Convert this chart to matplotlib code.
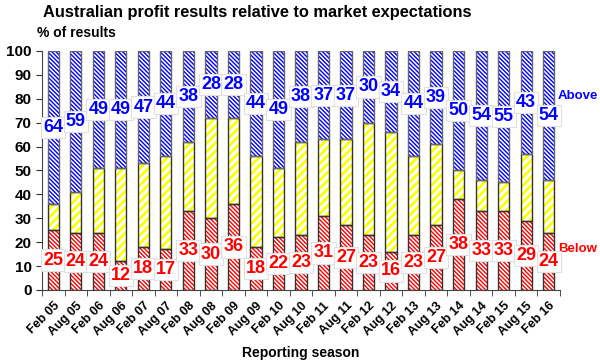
import numpy as np
import matplotlib
matplotlib.use("Agg")
import matplotlib.pyplot as plt

plt.rcParams['font.family'] = ['Liberation Sans', 'DejaVu Sans']

seasons = ['Feb 05', 'Aug 05', 'Feb 06', 'Aug 06', 'Feb 07', 'Aug 07', 'Feb 08', 'Aug 08',
           'Feb 09', 'Aug 09', 'Feb 10', 'Aug 10', 'Feb 11', 'Aug 11', 'Feb 12', 'Aug 12',
           'Feb 13', 'Aug 13', 'Feb 14', 'Aug 14', 'Feb 15', 'Aug 15', 'Feb 16']
above = [64, 59, 49, 49, 47, 44, 38, 28, 28, 44, 49, 38, 37, 37, 30, 34, 44, 39, 50, 54, 55, 43, 54]
below = [25, 24, 24, 12, 18, 17, 33, 30, 36, 18, 22, 23, 31, 27, 23, 16, 23, 27, 38, 33, 33, 29, 24]

above = np.array(above)
below = np.array(below)
inline = 100 - above - below
x = np.arange(len(seasons))
w = 0.5

fig = plt.figure(figsize=(6, 3.64), dpi=100)
ax = fig.add_axes([0.07, 0.2033, 0.8633, 0.6566])

# hatched segments (hatch colour comes from edgecolor)
with plt.rc_context({'hatch.linewidth': 1.0}):
    ax.bar(x, below, w, color='white', edgecolor='red', hatch='\\' * 8, linewidth=0)
    ax.bar(x, above, w, bottom=below + inline, color='white', edgecolor='blue',
           hatch='\\' * 8, linewidth=0)
with plt.rc_context({'hatch.linewidth': 2.0}):
    ax.bar(x, inline, w, bottom=below, color='white', edgecolor='#ffff00', hatch='////',
           linewidth=0)
# outlines
ax.bar(x, below, w, fill=False, edgecolor='#333333', linewidth=1)
ax.bar(x, inline, w, bottom=below, fill=False, edgecolor='#333333', linewidth=1)
ax.bar(x, above, w, bottom=below + inline, fill=False, edgecolor='#666666', linewidth=1)

box = dict(boxstyle='square,pad=0.12', fc='white', ec='#e0e0e0', lw=0.8)
for i in range(len(seasons)):
    ax.text(x[i], 100 - above[i] / 2, str(above[i]), ha='center', va='center',
            color='blue', fontsize=13, fontweight='bold', bbox=box, zorder=5)
    ax.text(x[i], below[i] / 2, str(below[i]), ha='center', va='center',
            color='red', fontsize=13, fontweight='bold', bbox=box, zorder=5)

ax.text(len(seasons) - 0.6, 81, 'Above', color='blue', fontsize=9.5, fontweight='bold',
        ha='left', va='center', clip_on=False)
ax.text(len(seasons) - 0.6, 17, 'Below', color='red', fontsize=9.5, fontweight='bold',
        ha='left', va='center', clip_on=False)

ax.set_xlim(-0.5, len(seasons) - 0.5)
ax.set_ylim(0, 100)
ax.set_yticks(range(0, 101, 10))
ax.set_xticks(x)
ax.set_xticklabels(seasons, rotation=45, ha='right', rotation_mode='anchor',
                   fontsize=9, fontweight='bold')
ax.set_xticks(np.arange(-0.5, len(seasons), 1), minor=True)
ax.tick_params(axis='x', which='major', length=0, pad=7)
ax.tick_params(axis='x', which='minor', length=4, direction='out', color='#333333')
ax.tick_params(axis='y', length=4, direction='out', labelsize=11, color='#333333')
for lab in ax.get_yticklabels():
    lab.set_fontweight('bold')
for s in ['top', 'right']:
    ax.spines[s].set_visible(False)
for s in ['left', 'bottom']:
    ax.spines[s].set_color('#444444')

fig.text(0.428, 0.965, 'Australian profit results relative to market expectations',
         ha='center', va='center', fontsize=11.8, fontweight='bold')
fig.text(0.062, 0.91, '% of results', ha='left', va='center', fontsize=10, fontweight='bold')
ax.set_xlabel('Reporting season', fontsize=10, fontweight='bold', labelpad=6)

fig.savefig('out.png', dpi=100)
